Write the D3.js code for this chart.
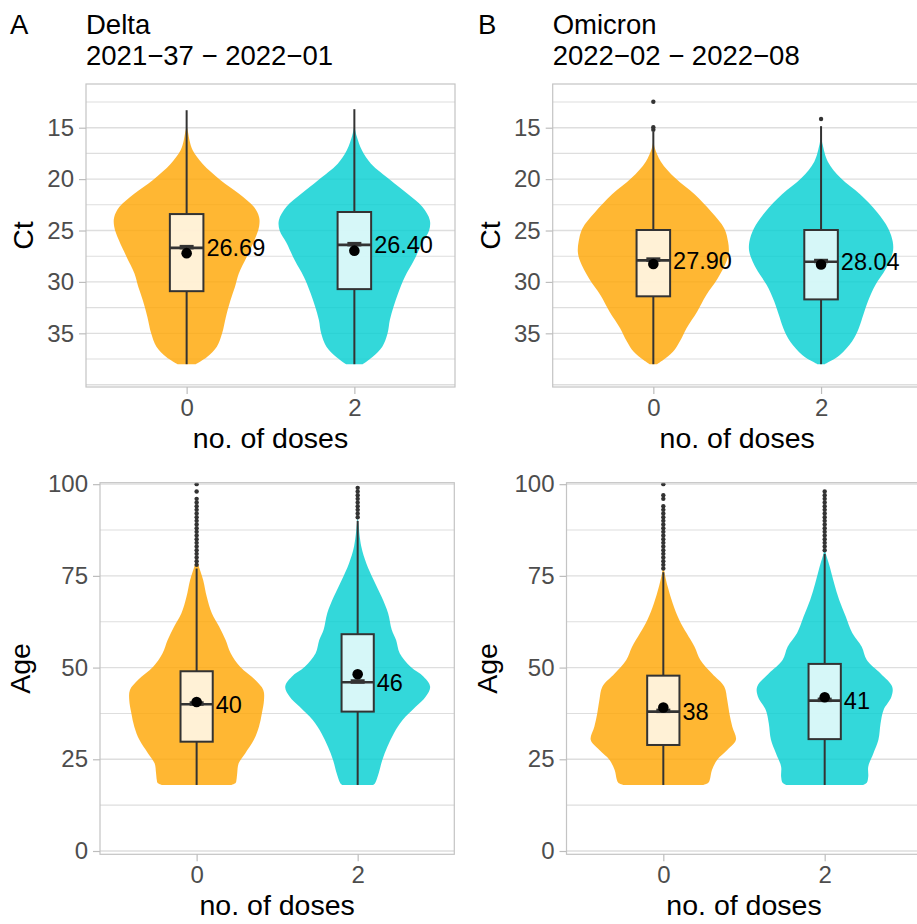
<!DOCTYPE html>
<html>
<head>
<meta charset="utf-8">
<script src="https://cdn.jsdelivr.net/npm/d3@7"></script>
<style>
  body { margin: 0; background: #ffffff; }
  svg { display: block; font-family: "Liberation Sans", Arial, sans-serif; }
</style>
</head>
<body>
<svg id="chart" width="917" height="924"></svg>
<script>
// ---- data ----
const panelLetters = ["A", "B"];
const variants = ["Delta", "Omicron"];
const periods = ["2021\u221237 \u2212 2022\u221201", "2022\u221202 \u2212 2022\u221208"];
const doses = ["0", "2"];
const doseColors = ["#FFA500", "#00CED1"];

const ctTicks = [15, 20, 25, 30, 35];
const ctGrid = [15, 20, 25, 30, 35, 40];
const ctMinor = [12.5, 17.5, 22.5, 27.5, 32.5, 37.5];
const ageTicks = [0, 25, 50, 75, 100];
const ageMinor = [12.5, 37.5, 62.5, 87.5];

// Box summaries: [lower whisker, q1, median, q3, upper whisker, mean]
const deltaCtBox0 = [13.3, 23.4, 26.69, 30.9, 38, 27.2];
const deltaCtBox2 = [13.2, 23.2, 26.40, 30.7, 38, 26.96];
const omicronCtBox0 = [15.4, 24.95, 27.90, 31.4, 38, 28.25];
const omicronCtBox2 = [14.85, 24.95, 28.04, 31.7, 38, 28.3];
const deltaAgeBox0 = [18, 29.8, 40, 49.0, 77, 40.6];
const deltaAgeBox2 = [18, 38.0, 46, 59.1, 90, 48.2];
const omicronAgeBox0 = [18, 28.9, 38, 47.8, 76, 39.1];
const omicronAgeBox2 = [18, 30.5, 41, 51.0, 81, 41.9];

// Outlying observations
const deltaCtOut0 = [];
const deltaCtOut2 = [];
const omicronCtOut0 = [12.47, 14.96, 15.2];
const omicronCtOut2 = [14.15];
const deltaAgeOut0 = [78, 79, 80, 81, 82, 83, 84, 85, 86, 87, 88, 89, 90, 91, 92, 93, 94, 95, 96, 98, 100];
const deltaAgeOut2 = [91, 92, 93, 94, 95, 96, 97, 98, 99];
const omicronAgeOut0 = [77, 78, 79, 80, 81, 82, 83, 84, 85, 86, 87, 88, 89, 90, 91, 92, 93, 94, 96, 97, 100];
const omicronAgeOut2 = [82, 83, 84, 85, 86, 87, 88, 89, 90, 91, 92, 93, 94, 95, 96, 97, 98];

// Violin density profiles: [value, density relative to the widest violin in the panel]
const deltaCtDens0 = [[15.0,0.005],[15.5,0.02],[16.3,0.04],[17.2,0.08],[18.5,0.21],[20.1,0.45],[21.4,0.69],[22.7,0.89],[23.7,0.96],[24.6,0.96],[25.9,0.90],[27.5,0.80],[29.2,0.69],[30.5,0.64],[31.8,0.58],[33.4,0.52],[35.0,0.47],[36.3,0.40],[37.3,0.27],[38.0,0.12]];
const deltaCtDens2 = [[15.0,0.005],[15.8,0.03],[17.2,0.10],[18.5,0.22],[20.1,0.48],[21.4,0.70],[22.7,0.90],[24.0,1.00],[25.0,0.99],[26.2,0.90],[27.9,0.79],[29.5,0.67],[31.1,0.58],[32.4,0.52],[33.7,0.47],[35.0,0.44],[36.3,0.37],[37.3,0.24],[38.0,0.11]];
const omicronCtDens0 = [[16.5,0.005],[17.0,0.02],[18.3,0.10],[19.9,0.29],[21.5,0.55],[23.2,0.77],[24.8,0.94],[26.1,0.99],[27.1,1.00],[28.0,0.97],[29.7,0.85],[31.3,0.70],[32.9,0.58],[34.5,0.44],[35.8,0.35],[36.8,0.26],[37.6,0.13],[38.0,0.05]];
const omicronCtDens2 = [[16.0,0.005],[16.6,0.02],[18.3,0.09],[19.9,0.26],[21.5,0.52],[23.2,0.74],[24.8,0.89],[26.1,0.95],[27.1,0.95],[28.7,0.86],[30.3,0.72],[31.9,0.62],[33.2,0.56],[34.5,0.50],[35.8,0.41],[37.1,0.25],[37.8,0.10],[38.0,0.05]];
const deltaAgeDens0 = [[18.0,0.48],[18.6,0.54],[19.4,0.55],[21.2,0.56],[23.9,0.58],[26.6,0.67],[30.3,0.79],[33.9,0.86],[37.5,0.90],[41.2,0.93],[43.9,0.92],[46.6,0.81],[50.2,0.60],[53.9,0.47],[57.5,0.40],[61.2,0.31],[64.8,0.21],[69.3,0.14],[73.9,0.09],[78.4,0.02],[80.5,0.005]];
const deltaAgeDens2 = [[18.0,0.21],[18.5,0.24],[21.2,0.29],[24.8,0.34],[28.4,0.41],[32.1,0.50],[35.7,0.62],[39.3,0.80],[42.1,0.94],[44.8,1.00],[47.5,0.91],[50.2,0.73],[53.9,0.58],[57.5,0.53],[60.3,0.47],[64.8,0.42],[69.3,0.33],[73.9,0.22],[78.4,0.12],[83.0,0.05],[89.3,0.01],[91.0,0.003]];
const omicronAgeDens0 = [[18.0,0.55],[18.6,0.62],[19.4,0.64],[22.1,0.67],[24.8,0.74],[27.5,0.88],[30.3,1.00],[33.9,0.95],[37.5,0.91],[41.2,0.88],[44.8,0.84],[48.4,0.67],[52.1,0.51],[55.7,0.43],[59.4,0.32],[63.0,0.22],[67.5,0.13],[72.1,0.06],[76.6,0.01],[78.0,0.003]];
const omicronAgeDens2 = [[18.0,0.53],[18.6,0.58],[20.3,0.60],[23.0,0.60],[26.6,0.67],[30.3,0.74],[34.8,0.77],[38.4,0.81],[42.1,0.92],[44.8,0.93],[48.4,0.77],[52.1,0.58],[55.7,0.51],[59.4,0.38],[63.9,0.29],[68.4,0.20],[73.0,0.13],[77.5,0.07],[81.6,0.01],[83.0,0.003]];

// ---- layout ----
const svg = d3.select("#chart");
const panels = [
  { col: 0, kind: "ct", rect: [86, 84, 455, 387], boxes: [deltaCtBox0, deltaCtBox2], outs: [deltaCtOut0, deltaCtOut2], dens: [deltaCtDens0, deltaCtDens2] },
  { col: 1, kind: "ct", rect: [552.7, 84, 921.7, 387], boxes: [omicronCtBox0, omicronCtBox2], outs: [omicronCtOut0, omicronCtOut2], dens: [omicronCtDens0, omicronCtDens2] },
  { col: 0, kind: "age", rect: [100, 482.7, 454.3, 854.3], boxes: [deltaAgeBox0, deltaAgeBox2], outs: [deltaAgeOut0, deltaAgeOut2], dens: [deltaAgeDens0, deltaAgeDens2] },
  { col: 1, kind: "age", rect: [566.5, 482.7, 921.5, 854.3], boxes: [omicronAgeBox0, omicronAgeBox2], outs: [omicronAgeOut0, omicronAgeOut2], dens: [omicronAgeDens0, omicronAgeDens2] }
];

const gridColor = "#DEDEDE";
const borderColor = "#C4C4C4";
const ink = "#333333";
const tickText = "#4D4D4D";

// Column headers
[0, 1].forEach(c => {
  const left = panels[c].rect[0];
  const letterX = c === 0 ? 10 : 478;
  svg.append("text").attr("x", letterX).attr("y", 34).attr("font-size", 27.5).attr("fill", "#000").text(panelLetters[c]);
  svg.append("text").attr("x", left).attr("y", 34).attr("font-size", 27.5).attr("fill", "#000").text(variants[c]);
  svg.append("text").attr("x", left).attr("y", 65).attr("font-size", 27.5).attr("fill", "#000").text(periods[c]);
});

panels.forEach(p => {
  const [L, T, R, B] = p.rect;
  const isCt = p.kind === "ct";
  const y = isCt
    ? d3.scaleLinear().domain([10.75, 40.22]).range([T, B])
    : d3.scaleLinear().domain([-0.9, 100.4]).range([B, T]);
  const x = d3.scalePoint().domain(doses).range([L, R]).padding(0.6);
  const step = x.step();
  const vw = d3.scaleLinear().domain([0, 1]).range([0, 0.45 * step]);
  const boxHalf = 0.1 * step;

  const g = svg.append("g");

  // gridlines
  const minor = isCt ? ctMinor : ageMinor;
  const major = isCt ? ctGrid : ageTicks;
  g.selectAll(".minor").data(minor).join("line")
    .attr("x1", L).attr("x2", R).attr("y1", d => y(d)).attr("y2", d => y(d))
    .attr("stroke", gridColor).attr("stroke-width", 1.1);
  g.selectAll(".major").data(major).join("line")
    .attr("x1", L).attr("x2", R).attr("y1", d => y(d)).attr("y2", d => y(d))
    .attr("stroke", gridColor).attr("stroke-width", 1.4);

  // violins
  doses.forEach((dose, i) => {
    const cx = x(dose);
    const area = d3.area()
      .y(d => y(d[0]))
      .x0(d => cx - vw(d[1]))
      .x1(d => cx + vw(d[1]))
      .curve(d3.curveCatmullRom.alpha(0.5));
    g.append("path").datum(p.dens[i]).attr("d", area)
      .attr("fill", doseColors[i]).attr("fill-opacity", 0.8);
  });

  // boxplots
  doses.forEach((dose, i) => {
    const cx = x(dose);
    const [lo, q1, med, q3, hi, mean] = p.boxes[i];
    g.append("line").attr("x1", cx).attr("x2", cx).attr("y1", y(lo)).attr("y2", y(q1))
      .attr("stroke", ink).attr("stroke-width", 2);
    g.append("line").attr("x1", cx).attr("x2", cx).attr("y1", y(q3)).attr("y2", y(hi))
      .attr("stroke", ink).attr("stroke-width", 2);
    const yA = y(q1), yB = y(q3);
    g.append("rect").attr("x", cx - boxHalf).attr("width", 2 * boxHalf)
      .attr("y", Math.min(yA, yB)).attr("height", Math.abs(yB - yA))
      .attr("fill", "#ffffff").attr("fill-opacity", 0.8)
      .attr("stroke", ink).attr("stroke-width", 2);
    // median marker bar
    g.append("rect").attr("x", cx - 7).attr("width", 14)
      .attr("y", y(med) - 3).attr("height", 4.5).attr("fill", ink);
    g.append("line").attr("x1", cx - boxHalf).attr("x2", cx + boxHalf)
      .attr("y1", y(med)).attr("y2", y(med))
      .attr("stroke", ink).attr("stroke-width", 2.6);
    // outliers
    g.selectAll(null).data(p.outs[i]).join("circle")
      .attr("cx", cx).attr("cy", d => y(d)).attr("r", 2.2).attr("fill", ink);
    // mean
    g.append("circle").attr("cx", cx).attr("cy", y(mean)).attr("r", 5.3).attr("fill", "#000");
    // median label
    g.append("text").attr("x", cx + boxHalf + 3).attr("y", y(med)).attr("dy", "0.36em")
      .attr("font-size", 23.5).attr("fill", "#000")
      .text(isCt ? d3.format(".2f")(med) : d3.format("d")(med));
  });

  // panel border
  g.append("rect").attr("x", L).attr("y", T).attr("width", R - L).attr("height", B - T)
    .attr("fill", "none").attr("stroke", borderColor).attr("stroke-width", 1.2);

  // axes
  const yAxis = svg.append("g").attr("transform", `translate(${L},0)`)
    .call(d3.axisLeft(y).tickValues(isCt ? ctTicks : ageTicks).tickSize(7).tickPadding(5));
  const xAxis = svg.append("g").attr("transform", `translate(0,${B})`)
    .call(d3.axisBottom(x).tickSize(7).tickPadding(5));
  [yAxis, xAxis].forEach(a => {
    a.select(".domain").remove();
    a.selectAll(".tick line").attr("stroke", "#BDBDBD").attr("stroke-width", 1.2);
    a.selectAll(".tick text").attr("font-size", 24).attr("fill", tickText)
      .attr("font-family", "\"Liberation Sans\", Arial, sans-serif");
  });

  // axis titles
  svg.append("text").attr("x", (L + R) / 2).attr("y", B + 61).attr("text-anchor", "middle")
    .attr("font-size", 28.5).attr("fill", "#000").text("no. of doses");
  const tx = p.col === 0 ? (isCt ? 33 : 30) : (isCt ? 500 : 497);
  svg.append("text").attr("transform", `translate(${tx},${(T + B) / 2}) rotate(-90)`)
    .attr("text-anchor", "middle").attr("font-size", 28.5).attr("fill", "#000")
    .text(isCt ? "Ct" : "Age");
});
</script>
</body>
</html>
